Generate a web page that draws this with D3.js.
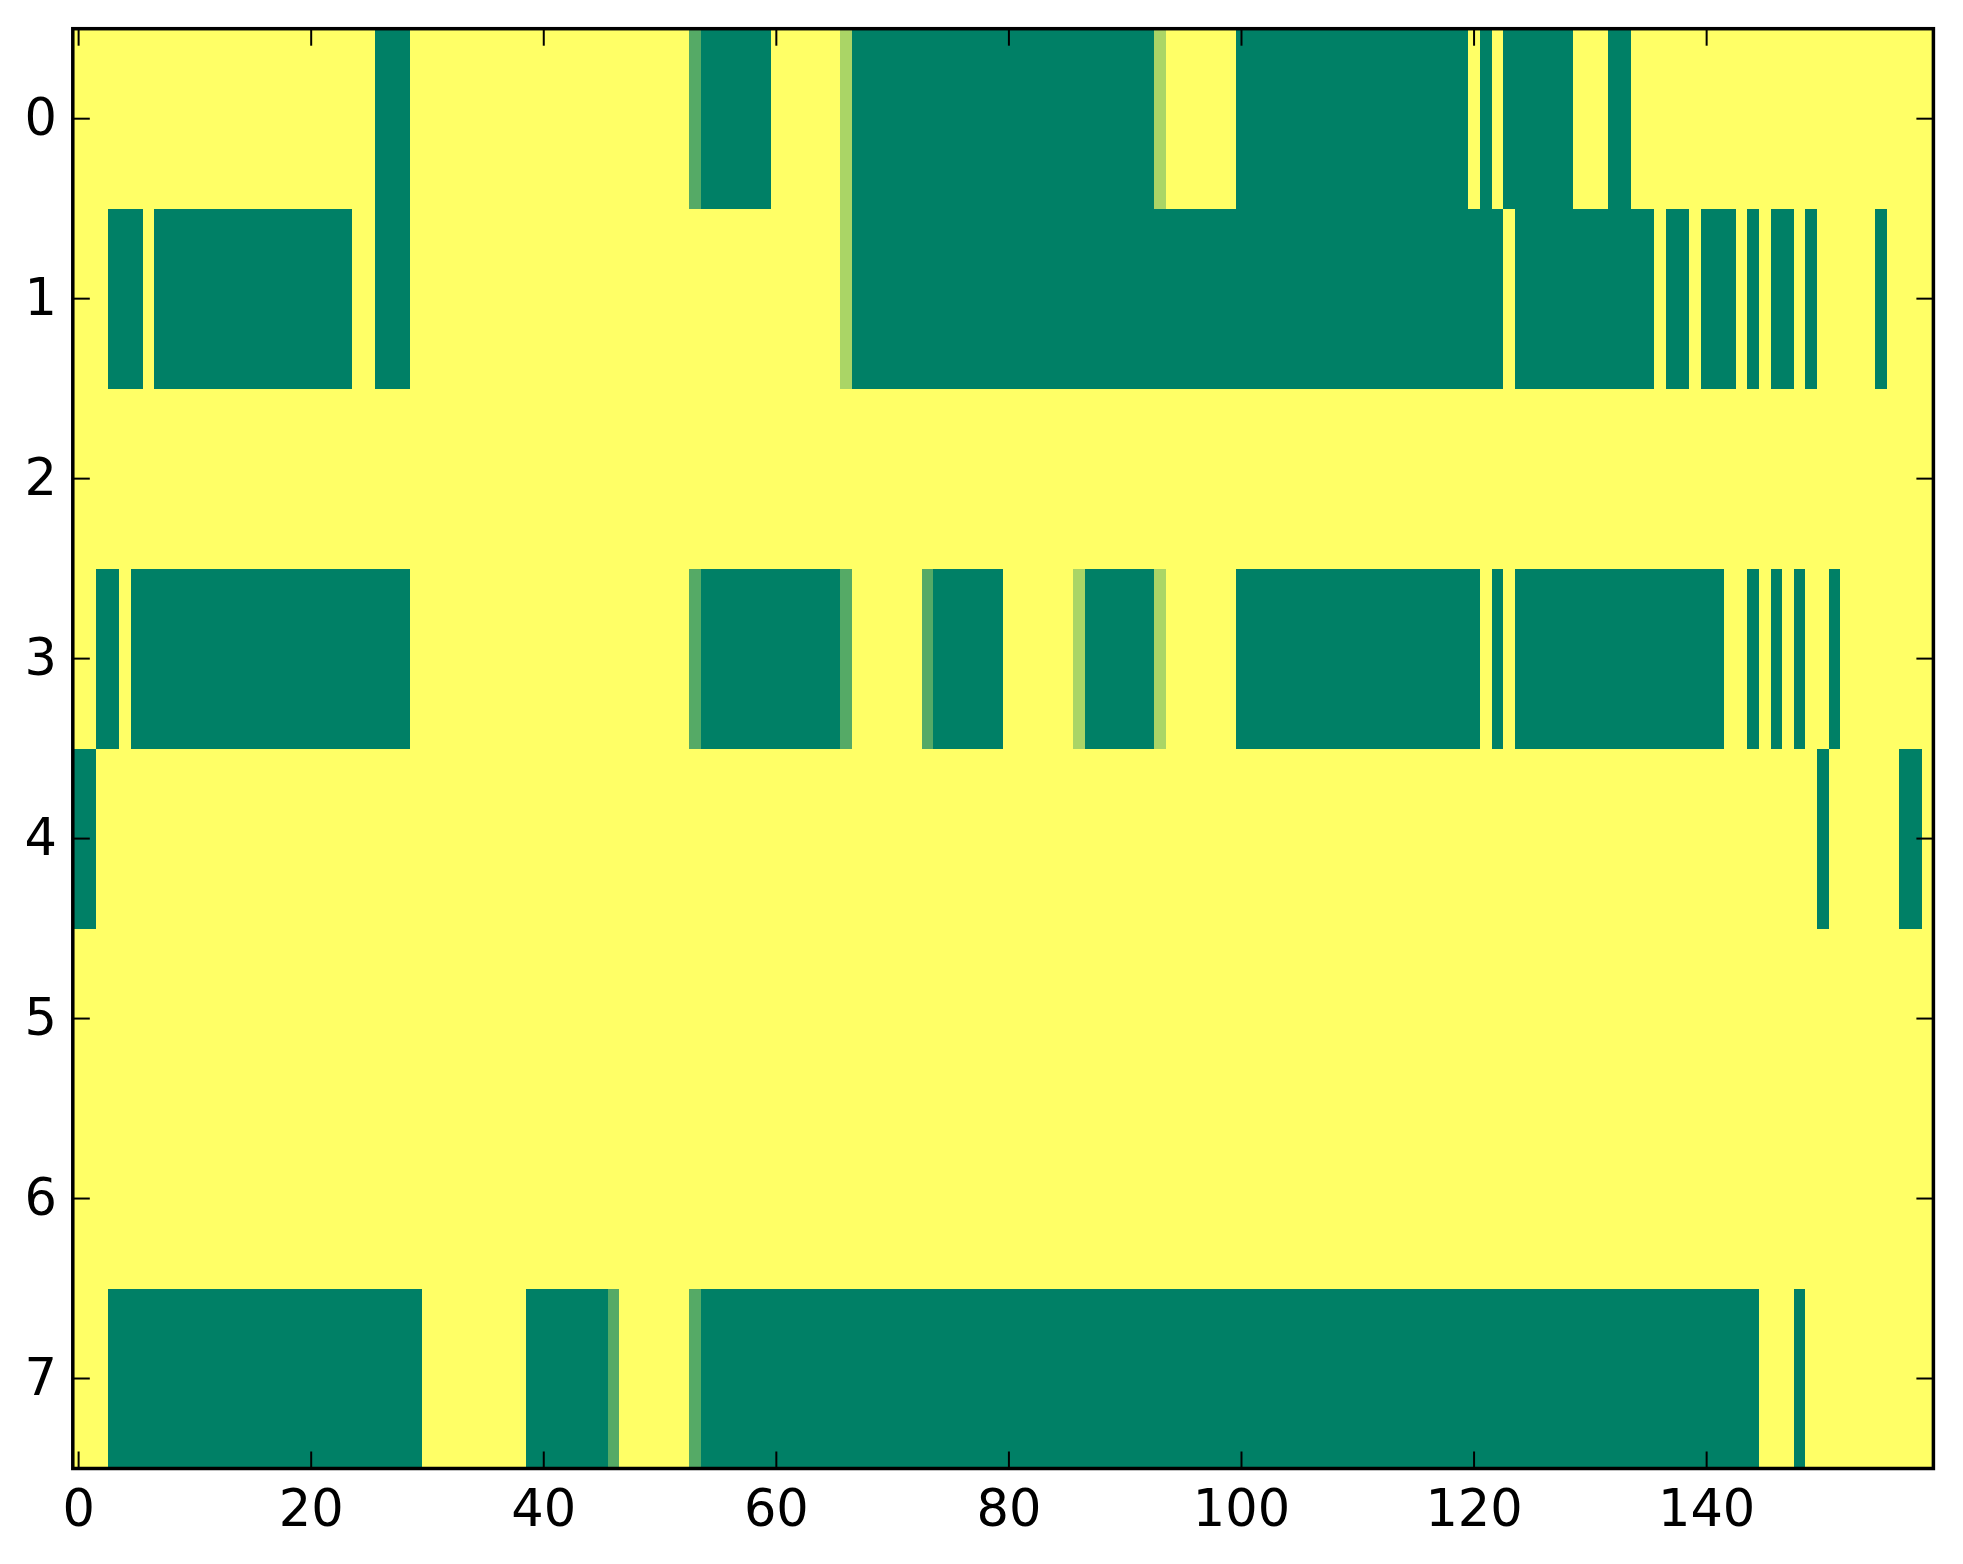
<!DOCTYPE html>
<html lang="en">
<head>
    <meta charset="UTF-8">
    <title>Heatmap - D3.js</title>
    <script src="https://d3js.org/d3.v7.min.js"></script>
    <style>
        body { margin: 0; background: #fff; }
        .tick-label {
            font-family: "DejaVu Sans", sans-serif;
            font-size: 51px;
            fill: #000;
        }
    </style>
</head>
<body>
<svg width="1963" height="1564"></svg>
<script>
    // cell values, 0 = lowest (dark green) .. 3 = highest (yellow), 160 columns per row
    const row0 = [
        3,3,3,3,3,3,3,3,3,3,3,3,3,3,3,3,3,3,3,3,
        3,3,3,3,3,3,0,0,0,3,3,3,3,3,3,3,3,3,3,3,
        3,3,3,3,3,3,3,3,3,3,3,3,3,1,0,0,0,0,0,0,
        3,3,3,3,3,3,2,0,0,0,0,0,0,0,0,0,0,0,0,0,
        0,0,0,0,0,0,0,0,0,0,0,0,0,2,3,3,3,3,3,3,
        0,0,0,0,0,0,0,0,0,0,0,0,0,0,0,0,0,0,0,0,
        3,0,3,0,0,0,0,0,0,3,3,3,0,0,3,3,3,3,3,3,
        3,3,3,3,3,3,3,3,3,3,3,3,3,3,3,3,3,3,3,3
    ];
    const row1 = [
        3,3,3,0,0,0,3,0,0,0,0,0,0,0,0,0,0,0,0,0,
        0,0,0,0,3,3,0,0,0,3,3,3,3,3,3,3,3,3,3,3,
        3,3,3,3,3,3,3,3,3,3,3,3,3,3,3,3,3,3,3,3,
        3,3,3,3,3,3,2,0,0,0,0,0,0,0,0,0,0,0,0,0,
        0,0,0,0,0,0,0,0,0,0,0,0,0,0,0,0,0,0,0,0,
        0,0,0,0,0,0,0,0,0,0,0,0,0,0,0,0,0,0,0,0,
        0,0,0,3,0,0,0,0,0,0,0,0,0,0,0,0,3,0,0,3,
        0,0,0,3,0,3,0,0,3,0,3,3,3,3,3,0,3,3,3,3
    ];
    const row2 = [
        3,3,3,3,3,3,3,3,3,3,3,3,3,3,3,3,3,3,3,3,
        3,3,3,3,3,3,3,3,3,3,3,3,3,3,3,3,3,3,3,3,
        3,3,3,3,3,3,3,3,3,3,3,3,3,3,3,3,3,3,3,3,
        3,3,3,3,3,3,3,3,3,3,3,3,3,3,3,3,3,3,3,3,
        3,3,3,3,3,3,3,3,3,3,3,3,3,3,3,3,3,3,3,3,
        3,3,3,3,3,3,3,3,3,3,3,3,3,3,3,3,3,3,3,3,
        3,3,3,3,3,3,3,3,3,3,3,3,3,3,3,3,3,3,3,3,
        3,3,3,3,3,3,3,3,3,3,3,3,3,3,3,3,3,3,3,3
    ];
    const row3 = [
        3,3,0,0,3,0,0,0,0,0,0,0,0,0,0,0,0,0,0,0,
        0,0,0,0,0,0,0,0,0,3,3,3,3,3,3,3,3,3,3,3,
        3,3,3,3,3,3,3,3,3,3,3,3,3,1,0,0,0,0,0,0,
        0,0,0,0,0,0,1,3,3,3,3,3,3,1,0,0,0,0,0,0,
        3,3,3,3,3,3,2,0,0,0,0,0,0,2,3,3,3,3,3,3,
        0,0,0,0,0,0,0,0,0,0,0,0,0,0,0,0,0,0,0,0,
        0,3,0,3,0,0,0,0,0,0,0,0,0,0,0,0,0,0,0,0,
        0,0,3,3,0,3,0,3,0,3,3,0,3,3,3,3,3,3,3,3
    ];
    const row4 = [
        0,0,3,3,3,3,3,3,3,3,3,3,3,3,3,3,3,3,3,3,
        3,3,3,3,3,3,3,3,3,3,3,3,3,3,3,3,3,3,3,3,
        3,3,3,3,3,3,3,3,3,3,3,3,3,3,3,3,3,3,3,3,
        3,3,3,3,3,3,3,3,3,3,3,3,3,3,3,3,3,3,3,3,
        3,3,3,3,3,3,3,3,3,3,3,3,3,3,3,3,3,3,3,3,
        3,3,3,3,3,3,3,3,3,3,3,3,3,3,3,3,3,3,3,3,
        3,3,3,3,3,3,3,3,3,3,3,3,3,3,3,3,3,3,3,3,
        3,3,3,3,3,3,3,3,3,3,0,3,3,3,3,3,3,0,0,3
    ];
    const row5 = row2.slice();
    const row6 = row2.slice();
    const row7 = [
        3,3,3,0,0,0,0,0,0,0,0,0,0,0,0,0,0,0,0,0,
        0,0,0,0,0,0,0,0,0,0,3,3,3,3,3,3,3,3,3,0,
        0,0,0,0,0,0,1,3,3,3,3,3,3,1,0,0,0,0,0,0,
        0,0,0,0,0,0,0,0,0,0,0,0,0,0,0,0,0,0,0,0,
        0,0,0,0,0,0,0,0,0,0,0,0,0,0,0,0,0,0,0,0,
        0,0,0,0,0,0,0,0,0,0,0,0,0,0,0,0,0,0,0,0,
        0,0,0,0,0,0,0,0,0,0,0,0,0,0,0,0,0,0,0,0,
        0,0,0,0,0,3,3,3,0,3,3,3,3,3,3,3,3,3,3,3
    ];
    const rows = [row0, row1, row2, row3, row4, row5, row6, row7];
    const xTicks = [0, 20, 40, 60, 80, 100, 120, 140];
    const yTicks = [0, 1, 2, 3, 4, 5, 6, 7];

    const nCols = row0.length;
    const plotLeft = 72.8, plotRight = 1933.4, plotTop = 28.7, plotBottom = 1468.5;

    const x = d3.scaleLinear().domain([-0.5, nCols - 0.5]).range([plotLeft, plotRight]);
    const y = d3.scaleLinear().domain([-0.5, rows.length - 0.5]).range([plotTop, plotBottom]);

    // matplotlib "summer" colormap
    const color = d3.scaleLinear().domain([0, 3]).range(["#008066", "#ffff66"]);

    const svg = d3.select("svg");

    const cells = [];
    rows.forEach((r, i) => r.forEach((v, j) => cells.push({ row: i, col: j, v: v })));

    svg.append("g")
        .selectAll("rect")
        .data(cells)
        .enter().append("rect")
        .attr("x", d => x(d.col - 0.5))
        .attr("y", d => y(d.row - 0.5))
        .attr("width", x(1) - x(0) + 0.3)
        .attr("height", y(1) - y(0) + 0.3)
        .attr("fill", d => color(d.v))
        .attr("shape-rendering", "crispEdges");

    const tickLen = 17;
    const ticks = svg.append("g").attr("stroke", "#000").attr("stroke-width", 2);

    xTicks.forEach(t => {
        ticks.append("line").attr("x1", x(t)).attr("x2", x(t)).attr("y1", plotBottom).attr("y2", plotBottom - tickLen);
        ticks.append("line").attr("x1", x(t)).attr("x2", x(t)).attr("y1", plotTop).attr("y2", plotTop + tickLen);
    });
    yTicks.forEach(t => {
        ticks.append("line").attr("x1", plotLeft).attr("x2", plotLeft + tickLen).attr("y1", y(t)).attr("y2", y(t));
        ticks.append("line").attr("x1", plotRight).attr("x2", plotRight - tickLen).attr("y1", y(t)).attr("y2", y(t));
    });

    svg.append("rect")
        .attr("x", plotLeft)
        .attr("y", plotTop)
        .attr("width", plotRight - plotLeft)
        .attr("height", plotBottom - plotTop)
        .attr("fill", "none")
        .attr("stroke", "#000")
        .attr("stroke-width", 3.5);

    svg.append("g")
        .selectAll("text")
        .data(xTicks)
        .enter().append("text")
        .attr("class", "tick-label")
        .attr("x", d => x(d))
        .attr("y", 1526)
        .attr("text-anchor", "middle")
        .text(d => d);

    svg.append("g")
        .selectAll("text")
        .data(yTicks)
        .enter().append("text")
        .attr("class", "tick-label")
        .attr("x", 57)
        .attr("y", d => y(d) + 16.5)
        .attr("text-anchor", "end")
        .text(d => d);
</script>
</body>
</html>
